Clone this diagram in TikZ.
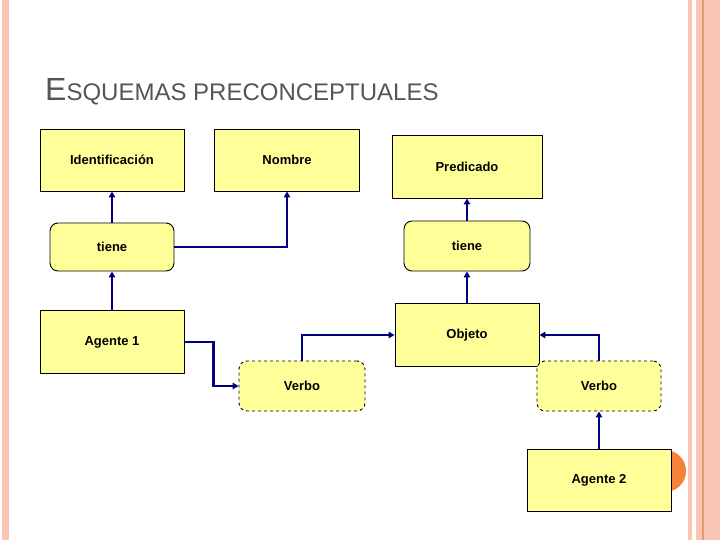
\documentclass[tikz,border=0pt]{standalone}
\usepackage{fontspec}
\setmainfont{Liberation Sans}
\usetikzlibrary{arrows.meta}
\definecolor{boxfill}{HTML}{FFFF99}
\definecolor{linkblue}{HTML}{000080}
\definecolor{stripe}{HTML}{F8C6B2}
\definecolor{stripedark}{HTML}{E59A72}
\definecolor{dotorange}{HTML}{F5823A}
\definecolor{titlegray}{HTML}{555555}

\begin{document}
\begin{tikzpicture}[x=1pt,y=-1pt,
    >={Triangle[length=6pt,width=6.5pt]},
    every node/.style={font=\bfseries\fontsize{13}{15}\selectfont},
    concept node/.style={draw=black,line width=0.9pt,fill=boxfill,minimum width=144pt,minimum height=62pt,inner sep=0pt},
    link node/.style={concept node,rounded corners=8pt,minimum width=124pt,minimum height=48pt},
    verb node/.style={link node,dashed,minimum height=50pt},
    conn/.style={->,draw=linkblue,line width=2.2pt}]
    \useasboundingbox (0,0) rectangle (720,540);

    % border stripes
    \fill[stripe] (2,0) rectangle (9,540);
    \fill[stripe] (688,0) rectangle (692,540);
    \fill[stripe] (696,0) rectangle (720,540);
    \fill[stripedark] (702,0) rectangle (703.5,540);
    \fill[dotorange] (665,471) circle (21);

    \node[anchor=base west,inner sep=0pt,text=titlegray,font=\fontsize{24}{24}\selectfont] (title) at (45,101)
        {{\fontsize{32}{32}\selectfont E}SQUEMAS PRECONCEPTUALES};

    \node[concept node] (ident) at (112,160) {Identificación};
    \node[concept node,minimum width=145pt] (nombre) at (287,160) {Nombre};
    \node[concept node,minimum width=150pt,minimum height=63pt] (pred) at (467,166.5) {Predicado};

    \node[link node] (tiene1) at (112,247) {tiene};
    \node[link node,minimum width=126pt,minimum height=50pt] (tiene2) at (467,246) {tiene};

    \node[concept node,minimum height=63pt] (agente1) at (112,342) {Agente 1};
    \node[concept node,minimum height=63pt] (objeto) at (467,335) {Objeto};

    \node[verb node,minimum width=126pt] (verbo1) at (302,386) {Verbo};
    \node[verb node] (verbo2) at (599,386) {Verbo};

    \node[concept node] (agente2) at (599,480) {Agente 2};

    % connectors
    \draw[conn] (tiene1) -- (ident);
    \draw[conn] (tiene1.east) -| (nombre.south);
    \draw[conn] (agente1) -- (tiene1);
    \draw[conn] (agente1.east) -- ++(29,0) |- (verbo1.west);
    \draw[conn] (verbo1.north) |- (objeto.west);
    \draw[conn] (objeto) -- (tiene2);
    \draw[conn] (tiene2) -- (pred);
    \draw[conn] (verbo2.north) |- (objeto.east);
    \draw[conn] (agente2) -- (verbo2);
\end{tikzpicture}
\end{document}
